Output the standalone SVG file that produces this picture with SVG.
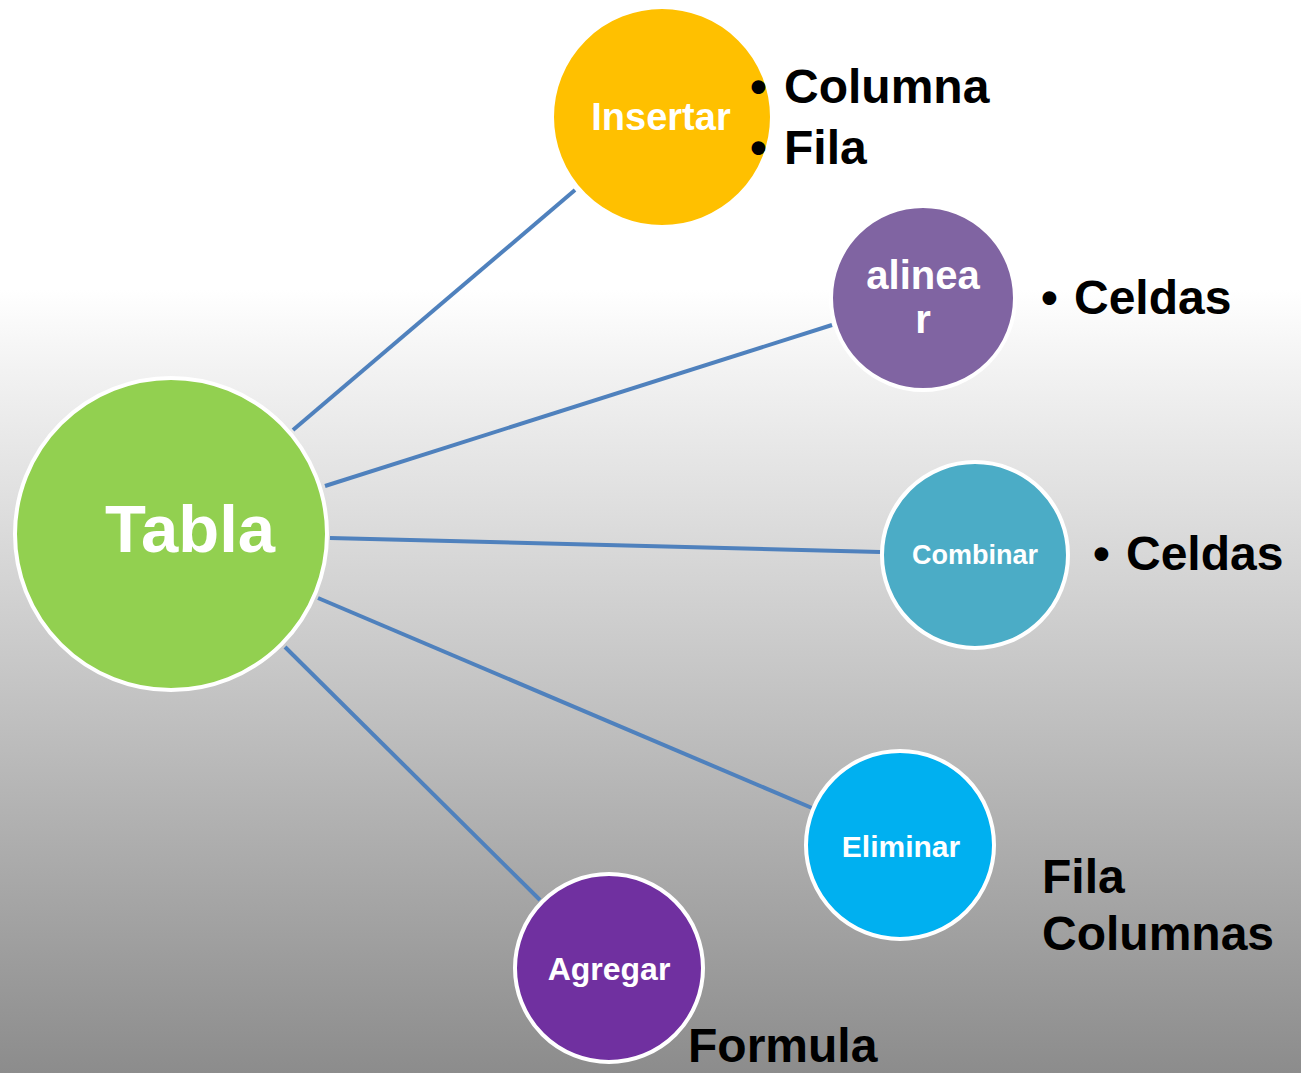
<svg xmlns="http://www.w3.org/2000/svg" width="1301" height="1073" viewBox="0 0 1301 1073">
<defs>
<linearGradient id="bg" x1="0" y1="0" x2="0" y2="1073" gradientUnits="userSpaceOnUse">
<stop offset="0" stop-color="#ffffff"/>
<stop offset="0.27" stop-color="#ffffff"/>
<stop offset="0.34" stop-color="#f3f3f3"/>
<stop offset="1" stop-color="#8c8c8c"/>
</linearGradient>
<style>
.node{stroke:#ffffff;stroke-width:4}
.lbl{font-family:"Liberation Sans",Arial,sans-serif;font-weight:bold;fill:#ffffff;text-anchor:middle}
.out{font-family:"Liberation Sans",Arial,sans-serif;font-weight:bold;fill:#000000;font-size:48px}
.conn line{stroke:#4f81bd;stroke-width:4}
</style>
</defs>
<rect x="0" y="0" width="1301" height="1073" fill="url(#bg)"/>
<g id="connectors" class="conn">
<line x1="293" y1="430" x2="575" y2="190"/>
<line x1="325" y1="486" x2="832" y2="325"/>
<line x1="330" y1="538" x2="880" y2="552"/>
<line x1="318" y1="598" x2="812" y2="808"/>
<line x1="285" y1="647" x2="540" y2="900"/>
</g>
<g id="node-tabla">
<circle class="node" cx="171" cy="534" r="156" fill="#92d050" stroke-width="5"/>
<text class="lbl" x="190" y="552" font-size="67">Tabla</text>
</g>
<g id="node-insertar">
<circle class="node" cx="662" cy="117" r="110" fill="#ffc000"/>
<text class="lbl" x="661" y="130" font-size="38">Insertar</text>
<text class="out"><tspan x="750" y="103">•</tspan><tspan x="784" y="103">Columna</tspan></text>
<text class="out"><tspan x="750" y="164">•</tspan><tspan x="784" y="164">Fila</tspan></text>
</g>
<g id="node-alinear">
<circle class="node" cx="923" cy="298" r="92" fill="#8064a2" stroke-width="3"/>
<text class="lbl" x="923" y="289" font-size="40">alinea</text>
<text class="lbl" x="923" y="333" font-size="40">r</text>
<text class="out"><tspan x="1041" y="314">•</tspan><tspan x="1074" y="314">Celdas</tspan></text>
</g>
<g id="node-combinar">
<circle class="node" cx="975" cy="555" r="93" fill="#4bacc6"/>
<text class="lbl" x="975" y="564" font-size="27">Combinar</text>
<text class="out"><tspan x="1093" y="570">•</tspan><tspan x="1126" y="570">Celdas</tspan></text>
</g>
<g id="node-eliminar">
<circle class="node" cx="900" cy="845" r="94" fill="#00b0f0"/>
<text class="lbl" x="901" y="857" font-size="30">Eliminar</text>
<text class="out" x="1042" y="893">Fila</text>
<text class="out" x="1042" y="950">Columnas</text>
</g>
<g id="node-agregar">
<circle class="node" cx="609" cy="968" r="94" fill="#7030a0"/>
<text class="lbl" x="609" y="980" font-size="32">Agregar</text>
<text class="out" x="688" y="1062" font-size="45">Formula</text>
</g>
</svg>
